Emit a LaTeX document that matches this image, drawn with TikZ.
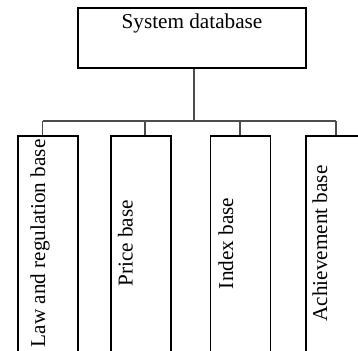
\documentclass[tikz,border=0pt]{standalone}
\usepackage{fontspec}
\setmainfont{Liberation Serif}
\begin{document}
\begin{tikzpicture}[x=1pt,y=1pt,
  boxstyle/.style={draw=black,line width=1.8pt,rectangle,inner sep=0pt},
  conn/.style={draw=black!70,line width=1.3pt},
  lbl/.style={inner sep=0pt,anchor=base,font=\fontsize{21.2}{25}\selectfont}]
\useasboundingbox (0,0) rectangle (358,-350);
\begin{scope}
\clip (0,0) rectangle (358,-350);
% top box
\node[boxstyle,minimum width=227.4pt,minimum height=60pt] (db) at (192,-38.3) {};
\node[lbl] (dbt) at (192,-28.3) {System database};
% bottom boxes
\node[boxstyle,minimum width=60pt,minimum height=216.3pt] (b1) at (48.3,-243.85) {};
\node[boxstyle,minimum width=60pt,minimum height=216.3pt] (b2) at (140.8,-243.85) {};
\node[boxstyle,minimum width=60pt,minimum height=216.3pt] (b3) at (240.5,-243.85) {};
\node[boxstyle,minimum width=60pt,minimum height=216.3pt] (b4) at (336,-243.85) {};
\node[lbl,rotate=90] (t1) at (45,-243.4) {Law and regulation base};
\node[lbl,rotate=90] (t2) at (132.5,-243.4) {Price base};
\node[lbl,rotate=90] (t3) at (233,-243.4) {Index base};
\node[lbl,rotate=90] (t4) at (327,-243.4) {Achievement base};
% connectors
\coordinate (j0) at (194,-121);
\coordinate (j1) at (42.7,-121);
\coordinate (j2) at (145,-121);
\coordinate (j3) at (240,-121);
\coordinate (j4) at (336,-121);
\draw[conn] (db.south -| j0) -- (j0);
\draw[conn] (j1) -- (j4);
\draw[conn] (j1) -- (b1.north -| j1);
\draw[conn] (j2) -- (b2.north -| j2);
\draw[conn] (j3) -- (b3.north -| j3);
\draw[conn] (j4) -- (b4.north -| j4);
\end{scope}
\end{tikzpicture}
\end{document}
